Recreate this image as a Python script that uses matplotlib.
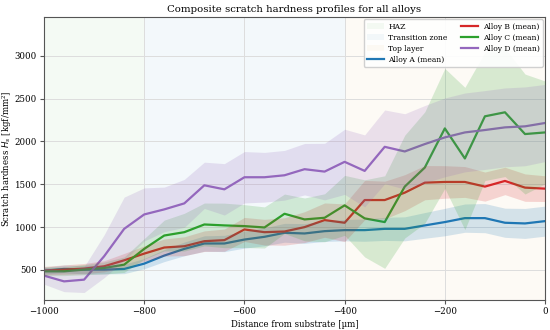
import matplotlib
matplotlib.use("Agg")
import matplotlib.pyplot as plt
import numpy as np

# distance from substrate, every 40 um
dist = np.arange(-1000, 1, 40)

alloy_a = [492, 512, 504, 504, 512, 574, 668, 746, 809, 809, 855, 887, 934,
           926, 953, 965, 965, 980, 980, 1020, 1059, 1105, 1105, 1051, 1043, 1070]
alloy_b = [492, 504, 516, 543, 613, 691, 762, 777, 836, 848, 973, 941, 949,
           1000, 1082, 1051, 1316, 1316, 1402, 1519, 1527, 1527, 1473, 1539, 1461, 1449]
alloy_c = [484, 484, 504, 523, 562, 746, 902, 941, 1031, 1020, 1012, 996, 1156,
           1090, 1109, 1254, 1102, 1059, 1473, 1695, 2152, 1801, 2293, 2340, 2086, 2105]
alloy_d = [434, 367, 387, 660, 980, 1148, 1207, 1277, 1488, 1441, 1582, 1582, 1605,
           1676, 1648, 1762, 1656, 1937, 1883, 1969, 2047, 2105, 2133, 2164, 2176, 2215]

# spread (std)
sd_a = [40, 45, 50, 50, 55, 60, 70, 80, 90, 95, 100, 105, 110,
        115, 120, 125, 130, 135, 140, 150, 160, 165, 170, 170, 175, 175]
sd_b = [50, 55, 60, 65, 80, 90, 100, 110, 120, 130, 140, 150, 160,
        180, 200, 220, 230, 220, 210, 200, 190, 180, 170, 160, 160, 150]
sd_c = [50, 50, 60, 70, 90, 120, 180, 220, 250, 260, 250, 240, 230,
        250, 280, 350, 450, 540, 600, 650, 700, 830, 750, 750, 700, 600]
sd_d = [100, 120, 150, 250, 370, 310, 260, 280, 270, 300, 300, 290, 290,
        300, 330, 380, 420, 430, 440, 450, 460, 460, 460, 460, 460, 450]

names = ["Alloy A", "Alloy B", "Alloy C", "Alloy D"]
colors = ["#1f77b4", "#d62728", "#2ca02c", "#9467bd"]

zones = ["HAZ", "Transition zone", "Top layer"]
zone_edges = [(-1000, -800), (-800, -400), (-400, 0)]
zone_colors = ["#2ca02c", "#1f77b4", "#e8a040"]

plt.rcParams['font.family'] = 'DejaVu Serif'
fig, ax = plt.subplots(figsize=(5.5, 3.3), dpi=100)
fig.subplots_adjust(left=0.08, right=0.991, top=0.948, bottom=0.091)

for (a, b), c, lab in zip(zone_edges, zone_colors, zones):
    ax.axvspan(a, b, color=c, alpha=0.05, lw=0, label=lab, zorder=0)

means = [alloy_a, alloy_b, alloy_c, alloy_d]
sds = [sd_a, sd_b, sd_c, sd_d]
for m, c, n in zip(means, colors, names):
    ax.plot(dist, m, color=c, lw=1.6, label=n + " (mean)", zorder=2)
for m, s, c in zip(means, sds, colors):
    m = np.array(m); s = np.array(s)
    ax.fill_between(dist, m - s, m + s, color=c, alpha=0.18, lw=0, zorder=3)

ax.set_xlim(-1000, 0)
ax.set_ylim(150, 3450)
ax.set_yticks([500, 1000, 1500, 2000, 2500, 3000])
ax.grid(True, color="#dddddd", lw=0.7, zorder=1)
ax.set_axisbelow(True)
for sp in ax.spines.values():
    sp.set_color("#555555")
ax.tick_params(labelsize=6.2, length=3, pad=2, color="#555555")
ax.set_title("Composite scratch hardness profiles for all alloys", fontsize=7.3, pad=4)
ax.set_xlabel("Distance from substrate [µm]", fontsize=6.2, labelpad=3)
ax.set_ylabel("Scratch hardness $H_s$ [kgf/mm²]", fontsize=6.2, labelpad=1)
ax.legend(loc="upper right", ncol=2, fontsize=5.5, framealpha=0.9,
          handlelength=2.2, handletextpad=0.6, columnspacing=1.8,
          borderpad=0.4, labelspacing=0.4, borderaxespad=0.3)

fig.savefig("out.png", dpi=100)
